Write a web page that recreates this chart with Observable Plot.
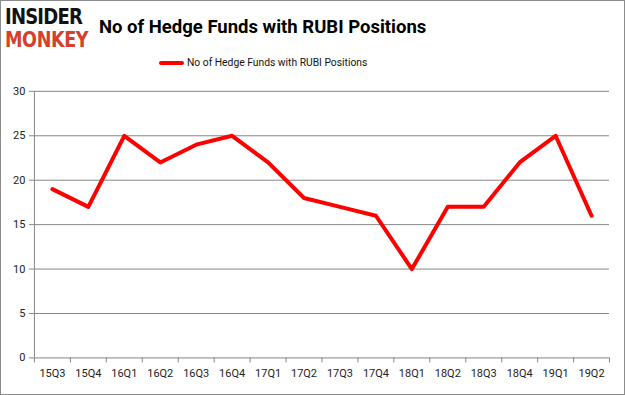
<!DOCTYPE html>
<html>
<head>
<meta charset="utf-8">
<script src="https://cdn.jsdelivr.net/npm/d3@7"></script>
<script src="https://cdn.jsdelivr.net/npm/@observablehq/plot@0.6"></script>
<style>
  html, body { margin: 0; padding: 0; background: #fff; }
  #wrap { position: relative; width: 625px; height: 395px; box-sizing: border-box; border: 1px solid #8c8c8c; overflow: hidden; font-family: "Liberation Sans Narrow", "Roboto", sans-serif; }
  #chart { position: absolute; left: -1px; top: -1px; }
  .logo { position: absolute; left: 4px; font-family: "DejaVu Sans", sans-serif; font-weight: bold; font-size: 22px; line-height: 22px; height: 22px; white-space: nowrap; transform-origin: left top; }
  #l1 { top: 5px; color: #111; letter-spacing: -1px; transform: scaleX(0.82); }
  #l2 { top: 28px; color: #d4402c; letter-spacing: -0.5px; transform: scaleX(0.8); }
  #title { position: absolute; left: 98px; top: 15px; font-size: 18.5px; font-weight: bold; color: #000; white-space: nowrap; }
  #legend { position: absolute; left: 158px; top: 55px; font-size: 10.3px; color: #111; display: flex; align-items: center; white-space: nowrap; }
  #legend .sw { width: 25px; height: 4px; background: #ff0000; border-radius: 2px; margin-right: 3px; }
</style>
</head>
<body>
<div id="wrap">
  <div id="chart"></div>
  <div class="logo" id="l1">INSIDER</div>
  <div class="logo" id="l2">MONKEY</div>
  <div id="title">No of Hedge Funds with RUBI Positions</div>
  <div id="legend"><div class="sw"></div><span>No of Hedge Funds with RUBI Positions</span></div>
</div>
<script>
const quarters = ["15Q3","15Q4","16Q1","16Q2","16Q3","16Q4","17Q1","17Q2","17Q3","17Q4","18Q1","18Q2","18Q3","18Q4","19Q1","19Q2"];
const funds = [19,17,25,22,24,25,22,18,17,16,10,17,17,22,25,16];
const yTicks = [0,5,10,15,20,25,30];

const data = quarters.map((q, i) => ({i, q, v: funds[i]}));
const boundaries = d3.range(quarters.length + 1).map(k => k - 0.5);

const plot = Plot.plot({
  width: 625,
  height: 395,
  marginLeft: 34,
  marginRight: 15,
  marginTop: 91,
  marginBottom: 37,
  style: {fontFamily: "'Liberation Sans Narrow', Roboto, sans-serif", fontSize: "11px", color: "#222", background: "transparent"},
  x: {type: "linear", domain: [-0.5, quarters.length - 0.5]},
  y: {domain: [0, 30]},
  marks: [
    Plot.ruleY(yTicks, {stroke: "#868686", strokeWidth: 1}),
    Plot.ruleX([-0.5], {y1: 0, y2: 30, stroke: "#868686"}),
    Plot.axisY({ticks: yTicks, tickSize: 5, tickPadding: 4, stroke: "#868686", fill: "#222", label: null, fontSize: 11}),
    Plot.axisX({ticks: boundaries, tickSize: 5, tickFormat: () => "", stroke: "#868686", label: null}),
    Plot.axisX({ticks: d3.range(quarters.length), tickSize: 0, tickPadding: 11, tickFormat: i => quarters[i], fill: "#222", label: null, fontSize: 11}),
    Plot.line(data, {x: "i", y: "v", stroke: "#ff0000", strokeWidth: 4, strokeLinejoin: "round", strokeLinecap: "round"})
  ]
});
document.getElementById("chart").appendChild(plot);
</script>
</body>
</html>
